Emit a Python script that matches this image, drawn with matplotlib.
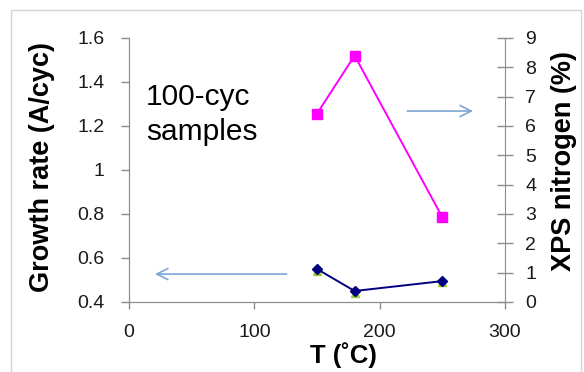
import matplotlib
matplotlib.use("Agg")
import matplotlib.pyplot as plt
from matplotlib.patches import Rectangle

plt.rcParams['font.family'] = ['Liberation Sans', 'DejaVu Sans']

# Data
temps = [150, 180, 250]
growth_rate = [0.55, 0.45, 0.495]
growth_rate_b = [0.543, 0.443, 0.489]
nitrogen = [6.42, 8.40, 2.89]

x_ticks = [0, 100, 200, 300]
y_left_ticks = [0.4, 0.6, 0.8, 1.0, 1.2, 1.4, 1.6]
y_left_labels = ["0.4", "0.6", "0.8", "1", "1.2", "1.4", "1.6"]
y_right_ticks = list(range(0, 10))

W, H = 584, 372
fig = plt.figure(figsize=(W / 100, H / 100), dpi=100)
fig.patch.set_facecolor('white')
fig.add_artist(Rectangle((11 / W, -0.01), (581 - 11) / W, 1 - 9.5 / H + 0.01,
                         transform=fig.transFigure, fill=False,
                         edgecolor='#d4d4d4', linewidth=1.0))

ax = fig.add_axes([129 / W, 1 - 302 / H, (505 - 129) / W, (302 - 38) / H])
ax2 = ax.twinx()

axis_col = '#8c8c8c'
txt_col = '#1a1a1a'

ax.set_xlim(0, 300)
ax.set_ylim(0.4, 1.6)
ax2.set_ylim(0, 9)

# left series
ax.plot(temps, growth_rate_b, linestyle='none', marker='^', markersize=6,
        color='#9acd32', zorder=3)
ax.plot(temps, growth_rate, color='#000080', marker='D', markersize=5,
        linewidth=1.4, zorder=4)
# right series
ax2.plot(temps, nitrogen, color='#ff00ff', marker='s', markersize=7,
         linewidth=1.4)

# arrows
arrow_col = '#7ea6d6'
ax.annotate('', xy=(20.7, 0.527), xytext=(125.7, 0.527),
            arrowprops=dict(arrowstyle='->', color=arrow_col, lw=1.2,
                            mutation_scale=20, shrinkA=0, shrinkB=0))
ax.annotate('', xy=(274.5, 1.268), xytext=(222, 1.268),
            arrowprops=dict(arrowstyle='->', color=arrow_col, lw=1.2,
                            mutation_scale=20, shrinkA=0, shrinkB=0))

ax.text(13.6, 1.2955, "100-cyc", fontsize=21.5, color='black',
        ha='left', va='baseline')
ax.text(13.6, 1.136, "samples", fontsize=21.5, color='black',
        ha='left', va='baseline')

# spines & ticks
ax.spines['top'].set_visible(False)
ax2.spines['top'].set_visible(False)
for s in ['left', 'bottom', 'right']:
    ax.spines[s].set_color(axis_col)
    ax2.spines[s].set_color(axis_col)
ax.spines['right'].set_visible(False)

ax.set_xticks(x_ticks)
ax.set_yticks(y_left_ticks)
ax.set_yticklabels(y_left_labels)
ax2.set_yticks(y_right_ticks)

ax.tick_params(axis='y', direction='out', length=5.5, width=1, color=axis_col,
               labelsize=14, labelcolor=txt_col, pad=12)
ax.tick_params(axis='x', direction='out', length=5, width=1, color=axis_col,
               labelsize=14, labelcolor=txt_col, pad=11)
ax2.tick_params(axis='y', direction='inout', length=11, width=1, color=axis_col,
                labelsize=14, labelcolor=txt_col, pad=9)

fig.text(42 / W, 1 - 167.5 / H, "Growth rate (A/cyc)", fontsize=19.5,
         fontweight='bold', rotation=90, ha='center', va='center', color='black')
fig.text(564 / W, 1 - 161 / H, "XPS nitrogen (%)", fontsize=19.5,
         fontweight='bold', rotation=90, ha='center', va='center', color='black')
fig.text(343 / W, 1 - 355 / H, "T (˚C)", fontsize=18.5, fontweight='bold',
         ha='center', va='center', color='black')

fig.savefig("out.png", dpi=100)
